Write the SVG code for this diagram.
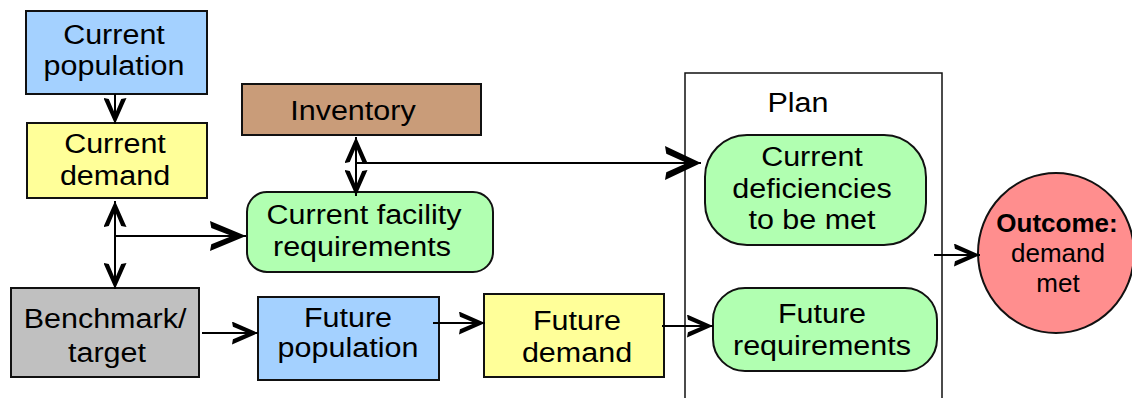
<svg xmlns="http://www.w3.org/2000/svg" width="1132" height="398" viewBox="0 0 1132 398">
  <style>
    .box { stroke: #111; stroke-width: 2; }
    .blue { fill: #a4d1ff; }
    .yellow { fill: #ffff99; }
    .green { fill: #b1ffb1; }
    .brown { fill: #c99c79; }
    .grey { fill: #c0c0c0; }
    .red { fill: #ff8e8e; }
    .frame { fill: none; stroke: #111; stroke-width: 1.5; }
    text { font-family: "Liberation Sans", Arial, sans-serif; font-size: 27px; fill: #000; text-anchor: middle; }
    .t { transform-box: fill-box; transform-origin: center; transform: scaleX(1.13); }
    .c { font-size: 26px; }
    .b { font-weight: bold; }
    .link { fill: none; stroke: #000; stroke-width: 2; }
  </style>
  <defs>
    <marker id="arr" viewBox="0 0 28 24" refX="28" refY="12" markerUnits="userSpaceOnUse" markerWidth="26" markerHeight="23" preserveAspectRatio="none" orient="auto-start-reverse">
      <path d="M0,0 L28,12 L0,24 L1,18.5 L17,12 L1,5.5 Z" fill="#000"/>
    </marker>
    <marker id="arrL" viewBox="0 0 28 24" refX="28" refY="12" markerUnits="userSpaceOnUse" markerWidth="36" markerHeight="30" preserveAspectRatio="none" orient="auto-start-reverse">
      <path d="M0,0 L28,12 L0,24 L1,18.5 L17,12 L1,5.5 Z" fill="#000"/>
    </marker>
    <marker id="arrXL" viewBox="0 0 28 24" refX="28" refY="12" markerUnits="userSpaceOnUse" markerWidth="36" markerHeight="34" preserveAspectRatio="none" orient="auto-start-reverse">
      <path d="M0,0 L28,12 L0,24 L1,18.5 L17,12 L1,5.5 Z" fill="#000"/>
    </marker>
  </defs>

  <!-- Plan container (runs off the bottom edge) -->
  <g id="plan">
    <path class="frame" d="M685,402 V73 H942 V402"/>
    <text class="t" x="798" y="112">Plan</text>
  </g>

  <g id="current-population">
    <rect class="box blue" x="26" y="11" width="181" height="83"/>
    <text class="t" x="114" y="44">Current</text>
    <text class="t" x="114" y="75">population</text>
  </g>

  <g id="current-demand">
    <rect class="box yellow" x="27" y="123" width="180" height="75"/>
    <text class="t" x="115" y="153">Current</text>
    <text class="t" x="115" y="185">demand</text>
  </g>

  <g id="inventory">
    <rect class="box brown" x="242" y="84" width="239" height="51"/>
    <text class="t" x="353" y="120">Inventory</text>
  </g>

  <g id="current-facility-requirements">
    <rect class="box green" x="247" y="192" width="246" height="80" rx="20"/>
    <text class="t" x="364" y="224">Current facility</text>
    <text class="t" x="362" y="256">requirements</text>
  </g>

  <g id="benchmark">
    <rect class="box grey" x="11" y="288" width="188" height="89"/>
    <text class="t" x="105" y="328">Benchmark/</text>
    <text class="t" x="107" y="362">target</text>
  </g>

  <g id="future-population">
    <rect class="box blue" x="258" y="297" width="181" height="83"/>
    <text class="t" x="348" y="327">Future</text>
    <text class="t" x="348" y="357">population</text>
  </g>

  <g id="future-demand">
    <rect class="box yellow" x="484" y="294" width="180" height="83"/>
    <text class="t" x="577" y="330">Future</text>
    <text class="t" x="577" y="362">demand</text>
  </g>

  <g id="current-deficiencies">
    <rect class="box green" x="705" y="135" width="221" height="110" rx="42"/>
    <text class="t" x="812" y="166">Current</text>
    <text class="t" x="812" y="198">deficiencies</text>
    <text class="t" x="812" y="229">to be met</text>
  </g>

  <g id="future-requirements">
    <rect class="box green" x="713" y="288" width="224" height="83" rx="32"/>
    <text class="t" x="822" y="323">Future</text>
    <text class="t" x="822" y="355">requirements</text>
  </g>

  <g id="outcome">
    <ellipse class="box red" cx="1056" cy="253" rx="78" ry="80"/>
    <text class="c b" x="1057" y="232">Outcome:</text>
    <text class="c" x="1058" y="262">demand</text>
    <text class="c" x="1058" y="292">met</text>
  </g>

  <g id="connectors">
    <line class="link" x1="115" y1="94" x2="115" y2="124" marker-end="url(#arr)"/>
    <line class="link" x1="115" y1="201" x2="115" y2="289" marker-start="url(#arr)" marker-end="url(#arr)"/>
    <line class="link" x1="115" y1="236" x2="246" y2="236" marker-end="url(#arrL)"/>
    <line class="link" x1="356" y1="137" x2="356" y2="196" marker-start="url(#arr)" marker-end="url(#arr)"/>
    <line class="link" x1="356" y1="163" x2="701" y2="163" marker-end="url(#arrXL)"/>
    <line class="link" x1="202" y1="333" x2="258" y2="333" marker-end="url(#arr)"/>
    <line class="link" x1="433" y1="323" x2="485" y2="323" marker-end="url(#arr)"/>
    <line class="link" x1="662" y1="326" x2="713" y2="326" marker-end="url(#arr)"/>
    <line class="link" x1="934" y1="255" x2="980" y2="255" marker-end="url(#arr)"/>
  </g>
</svg>
